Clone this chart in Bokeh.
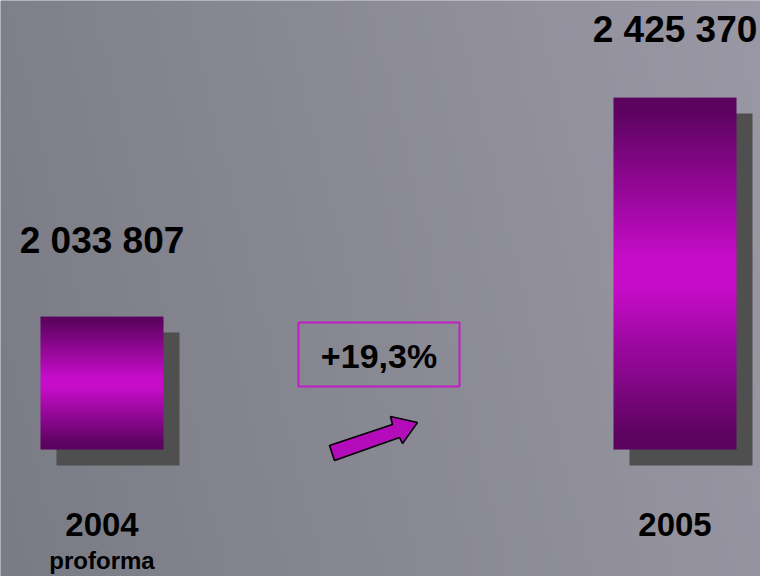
import numpy as np
from bokeh.plotting import figure
from bokeh.models import Range1d, ColumnDataSource
from bokeh.embed import file_html
from bokeh.resources import INLINE
from bokeh.core.properties import value

# ---------------- data ----------------
categories = ["2004", "2005"]
sublabels = ["proforma", ""]
values = [2033807, 2425370]
change_label = "+19,3%"

# ---------------- layout (reference-pixel frame 760x576) ----------------
W, H = 760, 576
REF_W, REF_H = 760.0, 576.0
X0_PX, X_STEP_PX = 101.5, 573.0          # centre of first bar, distance between bars
Y_MIN, Y_MAX = 1_569_000, 2_599_000       # value range covering the plot height
BASE = 1_796_000                          # value where bars start
UPP = (Y_MAX - Y_MIN) / REF_H             # value units per reference pixel
XPP = 1.0 / X_STEP_PX                     # x units per reference pixel

def px_x(px):
    return (px - X0_PX) * XPP

def px_y(py):
    return Y_MAX - py * UPP

X_MIN, X_MAX = px_x(0), px_x(REF_W)
BAR_W = 123 * XPP
SHADOW = 16

p = figure(width=W, height=H, x_range=Range1d(X_MIN, X_MAX), y_range=Range1d(Y_MIN, Y_MAX),
           output_backend="svg", toolbar_location=None, min_border=0)
p.axis.visible = False
p.grid.visible = False
p.outline_line_color = None
p.background_fill_color = "#8a8a94"
p.border_fill_color = "#8a8a94"

# background gradient (left darker grey -> right lighter lavender grey)
nx, ny = 200, 30
left = np.array([122, 124, 133], dtype=float)
right = np.array([154, 152, 164], dtype=float)
img = np.zeros((ny, nx), dtype=np.uint32)
view = img.view(dtype=np.uint8).reshape((ny, nx, 4))
for j in range(ny):
    for i in range(nx):
        t = i / (nx - 1) * 0.85 + (j / (ny - 1)) * 0.15
        c = left + (right - left) * t
        view[j, i, 0:3] = c.astype(np.uint8)
        view[j, i, 3] = 255
p.image_rgba(image=[img], x=X_MIN, y=Y_MIN, dw=X_MAX - X_MIN, dh=Y_MAX - Y_MIN)

# shadows
xs = list(range(len(values)))
p.quad(left=[x - BAR_W / 2 + SHADOW * XPP for x in xs],
       right=[x + BAR_W / 2 + SHADOW * XPP for x in xs],
       bottom=[BASE - SHADOW * UPP] * len(values),
       top=[v - SHADOW * UPP for v in values],
       fill_color="#4f4f4f", line_color=None)

# gradient bars: one vertical gradient image per bar, sized by its value
dark = np.array([92, 3, 96], dtype=float)
bright = np.array([198, 12, 200], dtype=float)
N = 256
grad = np.zeros((N, 1), dtype=np.uint32)
gv = grad.view(dtype=np.uint8).reshape((N, 1, 4))
for k in range(N):
    t = (k + 0.5) / N
    f = np.clip((abs(t - 0.5) - 0.04) / 0.42, 0, 1)
    c = bright + (dark - bright) * f
    gv[k, 0, 0:3] = np.round(c).astype(np.uint8)
    gv[k, 0, 3] = 255
p.image_rgba(image=[grad] * len(values),
             x=[x - BAR_W / 2 for x in xs], y=[BASE] * len(values),
             dw=[BAR_W] * len(values), dh=[v - BASE for v in values])

FONT = value("Liberation Sans")

# value labels above bars (centred vertically at given gap above the bar top)
label_gap_px = [76.5, 68]
vsrc = ColumnDataSource(dict(
    x=xs,
    y=[v + g * UPP for v, g in zip(values, label_gap_px)],
    text=[f"{v:,}".replace(",", " ") for v in values]))
p.text(x="x", y="y", text="text", source=vsrc, text_font=FONT, text_font_style="bold",
       text_font_size="37px", text_align="center", text_baseline="middle", text_color="#000000")

# category labels
csrc = ColumnDataSource(dict(x=xs, y=[px_y(524)] * len(xs), text=categories))
p.text(x="x", y="y", text="text", source=csrc, text_font=FONT, text_font_style="bold",
       text_font_size="33px", text_align="center", text_baseline="middle", text_color="#000000")
ssrc = ColumnDataSource(dict(x=xs, y=[px_y(560)] * len(xs), text=sublabels))
p.text(x="x", y="y", text="text", source=ssrc, text_font=FONT, text_font_style="bold",
       text_font_size="24px", text_align="center", text_baseline="middle", text_color="#000000")

# change box
p.quad(left=[px_x(298)], right=[px_x(459)], top=[px_y(322)], bottom=[px_y(386)],
       fill_color=None, line_color="#c41cc4", line_width=2)
p.text(x=[px_x(378.5)], y=[px_y(355.5)], text=[change_label], text_font=FONT,
       text_font_style="bold", text_font_size="34px", text_align="center",
       text_baseline="middle", text_color="#000000")

# arrow
arrow_px = [(329, 445), (392, 424), (390, 416), (417, 422), (402, 443), (399, 437), (334, 460)]
p.patch(x=[px_x(a) for a, b in arrow_px], y=[px_y(b) for a, b in arrow_px],
        fill_color="#b40cba", line_color="#000000", line_width=1.6)

open("out.html", "w").write(file_html(p, INLINE))
